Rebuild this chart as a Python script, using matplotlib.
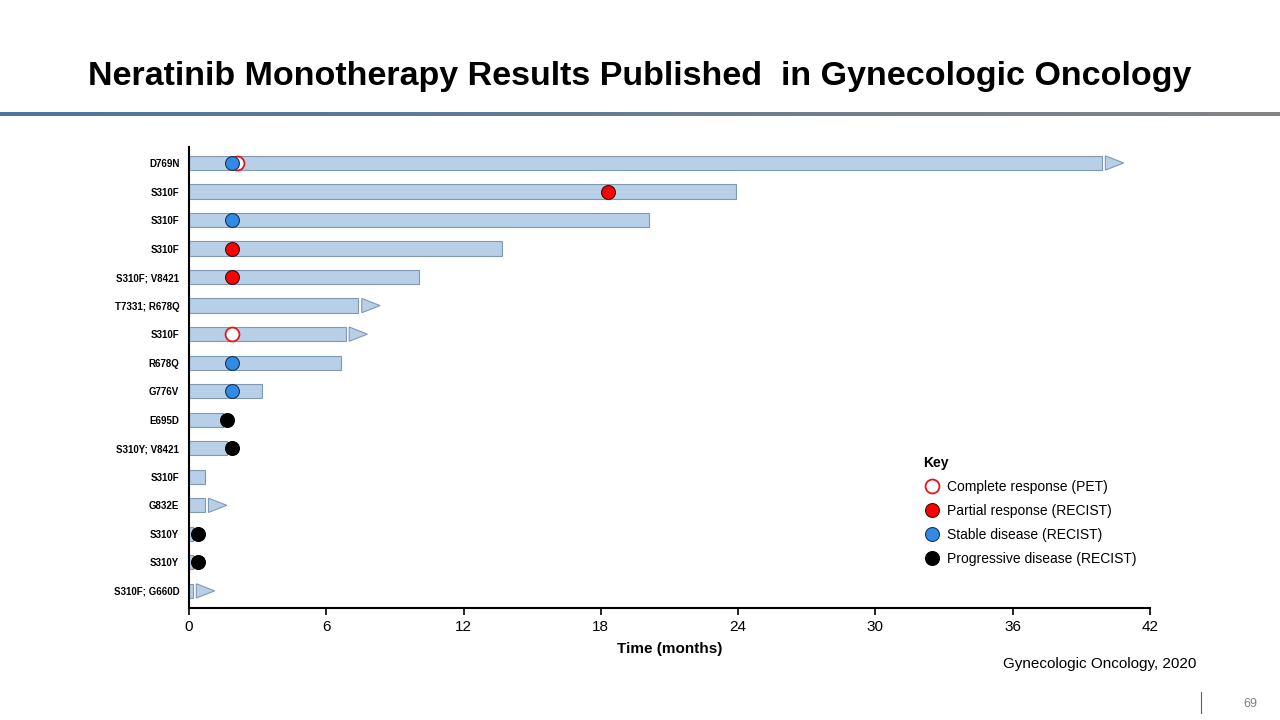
import numpy as np
import matplotlib.pyplot as plt
from matplotlib.patches import Polygon
from matplotlib.lines import Line2D

# === Data (months) ===
mutations = ["D769N", "S310F", "S310F", "S310F", "S310F; V8421", "T7331; R678Q",
             "S310F", "R678Q", "G776V", "E695D", "S310Y; V8421", "S310F",
             "G832E", "S310Y", "S310Y", "S310F; G660D"]
durations = [39.9, 23.9, 20.1, 13.7, 10.05, 7.4, 6.85, 6.65, 3.2, 1.5, 1.65, 0.7,
             0.7, 0.17, 0.17, 0.17]
ongoing = [True, False, False, False, False, True, True, False, False, False,
           False, False, True, False, False, True]
# response markers: (row, time, type)
resp_rows = [0, 0, 1, 2, 3, 4, 6, 7, 8, 9, 10, 13, 14]
resp_times = [2.1, 1.9, 18.3, 1.9, 1.9, 1.9, 1.9, 1.9, 1.9, 1.65, 1.9, 0.4, 0.4]
resp_types = ["CR", "SD", "PR", "SD", "PR", "PR", "CR", "SD", "SD", "PD", "PD", "PD", "PD"]

key_labels = {"CR": "Complete response (PET)", "PR": "Partial response (RECIST)",
              "SD": "Stable disease (RECIST)", "PD": "Progressive disease (RECIST)"}
styles = {"CR": dict(mfc="white", mec="#e8141b", mew=1.3),
          "PR": dict(mfc="#ff0000", mec="#3a1010", mew=0.8),
          "SD": dict(mfc="#2f8be6", mec="#1a3550", mew=0.8),
          "PD": dict(mfc="black", mec="black", mew=0.8)}

BAR_C = "#b8cfe8"
EDGE_C = "#8098b4"

fig = plt.figure(figsize=(12.8, 7.2), dpi=100)
plt.rcParams['font.family'] = ['Liberation Sans', 'DejaVu Sans']

# title + gradient rule
fig.text(0.5, 1 - 77 / 720, "Neratinib Monotherapy Results Published  in Gynecologic Oncology",
         ha="center", va="center", fontsize=24.5, fontweight="bold")
gax = fig.add_axes([0, 1 - 116 / 720, 1, 4 / 720])
c0 = np.array([0x4a, 0x77, 0xa0]) / 255
c1 = np.array([0x84, 0x84, 0x84]) / 255
t = np.linspace(0, 1, 256)[:, None]
grad = (c0 * (1 - t) + c1 * t)[None, :, :]
gax.imshow(grad, aspect="auto", extent=[0, 1, 0, 1])
gax.axis("off")

ax = fig.add_axes([189 / 1280, 1 - 608 / 720, 961 / 1280, 461 / 720])
rows = np.arange(len(mutations))
bh = 0.5
ax.barh(rows, durations, height=bh, color=BAR_C, edgecolor=EDGE_C, linewidth=0.8, zorder=2)

# arrows for ongoing patients
for r, d, on in zip(rows, durations, ongoing):
    if on:
        x0 = d + 0.15
        tri = Polygon([[x0, r - bh / 2], [x0, r + bh / 2], [x0 + 0.8, r]], closed=True,
                      facecolor=BAR_C, edgecolor=EDGE_C, linewidth=0.8, zorder=2)
        ax.add_patch(tri)

for r, x, k in zip(resp_rows, resp_times, resp_types):
    ax.plot(x, r, "o", ms=10, zorder=3 if k != "CR" else 2.5, **styles[k])

ax.set_xlim(0, 42)
ax.set_ylim(len(mutations) - 0.4, -0.56)
ax.set_xticks(np.arange(0, 43, 6))
ax.set_yticks(rows)
ax.set_yticklabels(mutations, fontsize=7, fontweight="bold")
ax.tick_params(axis="y", length=0, pad=7)
ax.tick_params(axis="x", labelsize=11, length=5, width=1.2)
ax.set_xlabel("Time (months)", fontsize=11, fontweight="bold", labelpad=6)
for s in ["top", "right"]:
    ax.spines[s].set_visible(False)
for s in ["left", "bottom"]:
    ax.spines[s].set_linewidth(1.5)

handles = [Line2D([], [], ls="none", marker="o", ms=10, **styles[k]) for k in key_labels]
leg = ax.legend(handles, list(key_labels.values()), title="Key", frameon=False,
                loc="upper left", bbox_to_anchor=(0.757, 0.345), fontsize=10,
                title_fontproperties={"weight": "bold", "size": 10}, borderpad=0,
                handletextpad=0.5, labelspacing=0.72, handlelength=1.2)
leg._legend_box.align = "left"

fig.text(1196 / 1280, 1 - 664 / 720, "Gynecologic Oncology, 2020", ha="right", va="center", fontsize=11)
fig.text(1250 / 1280, 1 - 704 / 720, "69", ha="center", va="center", fontsize=9, color="#808080")
fig.add_artist(Line2D([1201 / 1280] * 2, [1 - 692 / 720, 1 - 713 / 720], color="#606060", lw=0.8))

fig.savefig("out.png", dpi=100)
